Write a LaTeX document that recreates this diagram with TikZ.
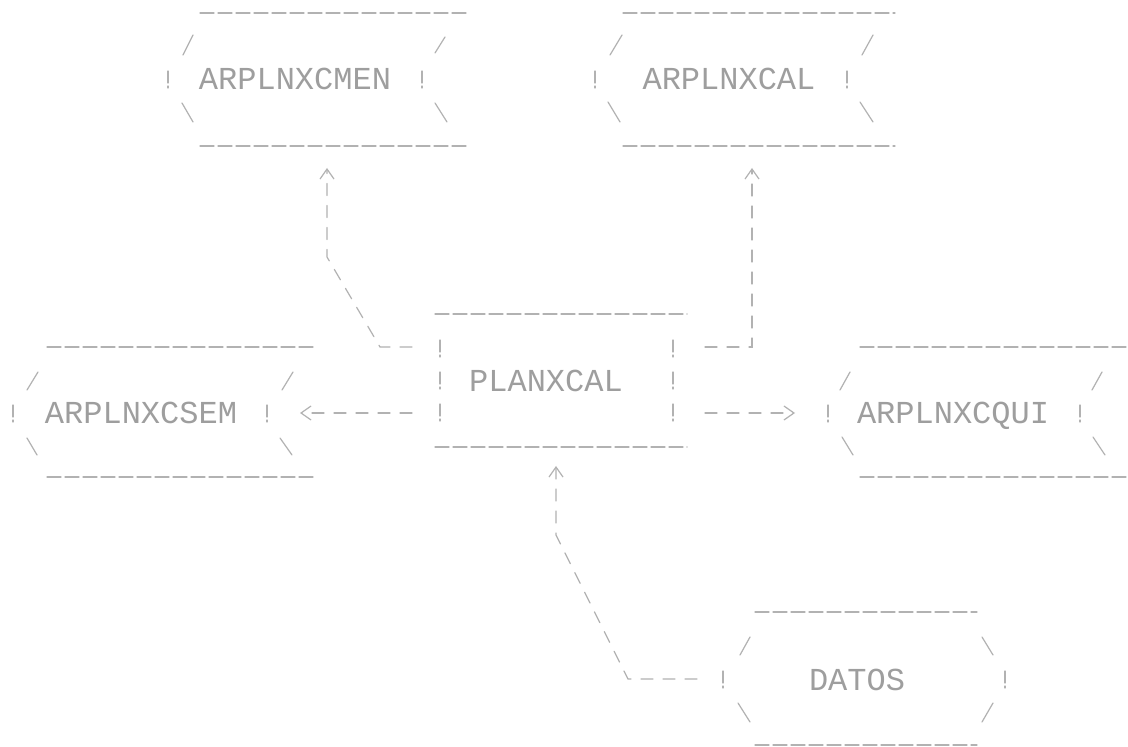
\documentclass[tikz,border=0pt]{standalone}
\usepackage{fontspec}
\newfontfamily\dotfont{Liberation Mono}
\usetikzlibrary{arrows.meta}
\tikzset{
  ink/.style={draw=black!30, line width=0.6pt, line cap=round},
  rulel/.style={ink, dash pattern=on 7pt off 2pt},
  conn/.style={ink, dash pattern=on 6pt off 5pt},
  tipc/.style={-{Straight Barb[length=5pt,width=7pt,line width=0.6pt]}},
  lbl/.style={text=black!38, font=\dotfont\fontsize{16}{18}\selectfont, inner sep=0pt, text depth=0pt},
  bang/.pic={\draw[ink] (0,-8) -- (0,4); \draw[ink] (0,7) -- (0,9);},
}
\begin{document}
\begin{tikzpicture}[x=0.5pt,y=-0.5pt]
\path[use as bounding box, fill=white] (0,0) rectangle (1128,747);

% ARPLNXCMEN
\draw[rulel] (200,13) -- (467,13);
\draw[rulel] (200,146) -- (467,146);
\draw[ink] (183,55) -- (193,35);
\draw[ink] (435,53) -- (445,37);
\draw[ink] (182,103) -- (193,122);
\draw[ink] (435,103) -- (447,122);
\pic at (168,79) {bang};
\pic at (422,79) {bang};
\node[lbl] (men) at (295,79) {ARPLNXCMEN};

% ARPLNXCAL
\draw[rulel] (623,13) -- (895,13);
\draw[rulel] (623,146) -- (895,146);
\draw[ink] (610,55) -- (622,35);
\draw[ink] (862,55) -- (873,35);
\draw[ink] (608,102) -- (620,122);
\draw[ink] (860,102) -- (873,122);
\pic at (595,79) {bang};
\pic at (847,79) {bang};
\node[lbl] (cal) at (729,79) {ARPLNXCAL};

% ARPLNXCSEM
\draw[rulel] (47,347) -- (313,347);
\draw[rulel] (47,477) -- (313,477);
\draw[ink] (27,390) -- (38,372);
\draw[ink] (282,390) -- (293,372);
\draw[ink] (27,438) -- (37,455);
\draw[ink] (280,438) -- (292,455);
\pic at (13,413) {bang};
\pic at (267,413) {bang};
\node[lbl] (sem) at (141,413) {ARPLNXCSEM};

% PLANXCAL
\draw[rulel] (435,314) -- (687,314);
\draw[rulel] (435,447) -- (687,447);
\foreach \yy in {348,380,412} {
  \pic at (440,\yy) {bang};
  \pic at (673,\yy) {bang};
}
\node[lbl] (pl) at (546,381) {PLANXCAL};

% ARPLNXCQUI
\draw[rulel] (860,347) -- (1128,347);
\draw[rulel] (860,477) -- (1128,477);
\draw[ink] (840,390) -- (850,372);
\draw[ink] (1092,390) -- (1102,372);
\draw[ink] (842,437) -- (853,455);
\draw[ink] (1093,437) -- (1105,455);
\pic at (828,413) {bang};
\pic at (1080,413) {bang};
\node[lbl] (qui) at (953,413) {ARPLNXCQUI};

% DATOS
\draw[rulel] (755,612) -- (977,612);
\draw[rulel] (755,745) -- (977,745);
\draw[ink] (740,655) -- (750,637);
\draw[ink] (982,637) -- (993,655);
\draw[ink] (738,703) -- (750,722);
\draw[ink] (982,722) -- (993,703);
\pic at (723,679) {bang};
\pic at (1005,679) {bang};
\node[lbl] (da) at (857,680) {DATOS};

% connector end points
\coordinate (pl-nw) at (412,347);
\coordinate (pl-ne) at (705,347);
\coordinate (pl-w) at (412,413);
\coordinate (pl-e) at (705,413);
\coordinate (pl-s) at (556,466);
\coordinate (men-in) at (327,168);
\coordinate (cal-in) at (752,168);
\coordinate (sem-in) at (300,413);
\coordinate (qui-in) at (795,413);
\coordinate (da-w) at (697,679);

% connectors
\draw[conn, tipc] (pl-nw) -- (380,347) -- (327,257) -- (men-in);
\draw[conn, tipc] (pl-ne) -- (752,347) -- (cal-in);
\draw[conn, tipc] (pl-w) -- (sem-in);
\draw[conn, tipc] (pl-e) -- (qui-in);
\draw[conn, tipc] (da-w) -- (628,679) -- (556,535) -- (pl-s);
\end{tikzpicture}
\end{document}
